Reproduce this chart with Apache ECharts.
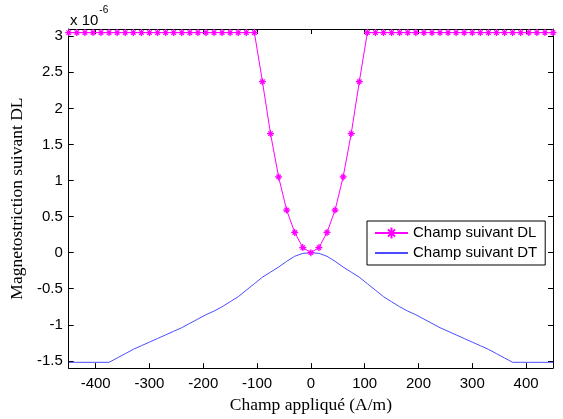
<!DOCTYPE html>
<html>
<head>
<meta charset="utf-8">
<script src="https://cdn.jsdelivr.net/npm/echarts@6/dist/echarts.min.js"></script>
<style>html,body{margin:0;padding:0;background:#fff;}#c{width:563px;height:419px;}</style>
</head>
<body>
<div id="c"></div>
<script>
var fields = [-450,-435,-420,-405,-390,-375,-360,-345,-330,-315,-300,-285,-270,-255,-240,-225,-210,-195,-180,-165,-150,-135,-120,-105,-90,-75,-60,-45,-30,-15,0,15,30,45,60,75,90,105,120,135,150,165,180,195,210,225,240,255,270,285,300,315,330,345,360,375,390,405,420,435,450];
var dlValues = [3.05,3.05,3.05,3.05,3.05,3.05,3.05,3.05,3.05,3.05,3.05,3.05,3.05,3.05,3.05,3.05,3.05,3.05,3.05,3.05,3.05,3.05,3.05,3.05,2.37,1.65,1.05,0.59,0.28,0.07,0,0.07,0.28,0.59,1.05,1.65,2.37,3.05,3.05,3.05,3.05,3.05,3.05,3.05,3.05,3.05,3.05,3.05,3.05,3.05,3.05,3.05,3.05,3.05,3.05,3.05,3.05,3.05,3.05,3.05,3.05];
var dtValues = [-1.52,-1.52,-1.52,-1.52,-1.52,-1.52,-1.46,-1.40,-1.34,-1.29,-1.24,-1.19,-1.14,-1.09,-1.04,-0.98,-0.92,-0.86,-0.81,-0.75,-0.68,-0.61,-0.52,-0.43,-0.34,-0.27,-0.20,-0.12,-0.05,-0.01,0,-0.01,-0.05,-0.12,-0.20,-0.27,-0.34,-0.43,-0.52,-0.61,-0.68,-0.75,-0.81,-0.86,-0.92,-0.98,-1.04,-1.09,-1.14,-1.19,-1.24,-1.29,-1.34,-1.40,-1.46,-1.52,-1.52,-1.52,-1.52,-1.52,-1.52];
var xTicks = [-400,-300,-200,-100,0,100,200,300,400];
var yTicks = [-1.5,-1,-0.5,0,0.5,1,1.5,2,2.5,3];
var seriesNames = ['Champ suivant DL','Champ suivant DT'];

function pairs(xs, ys){ var out=[]; for(var i=0;i<xs.length;i++){ out.push([xs[i], ys[i]]); } return out; }

var chart = echarts.init(document.getElementById('c'));
var sans = 'Liberation Sans, Arial, sans-serif';
var serif = 'Liberation Serif, Times New Roman, serif';
var lab = {fontFamily:sans, fontSize:15, color:'#000'};
var star = 'path://M0,-5L0,5M-5,0L5,0M-3.2,-3.2L3.2,3.2M-3.2,3.2L3.2,-3.2';
chart.setOption({
  animation:false,
  backgroundColor:'#fff',
  grid:{left:68.7, right:10, top:29, bottom:49, containLabel:false},
  xAxis:[{
    type:'value', min:-450, max:450, position:'bottom',
    axisLine:{show:true, onZero:false, lineStyle:{color:'#000', width:1}},
    axisTick:{show:true, inside:true, length:5, customValues:xTicks, lineStyle:{color:'#000'}},
    axisLabel:Object.assign({customValues:xTicks, margin:8}, lab),
    splitLine:{show:false},
    name:'Champ appliqué (A/m)', nameLocation:'middle', nameGap:26,
    nameTextStyle:{fontFamily:serif, fontSize:17.5, color:'#000'}
  },{
    type:'value', min:-450, max:450, position:'top',
    axisLine:{show:true, onZero:false, lineStyle:{color:'#000', width:1}},
    axisTick:{show:true, inside:true, length:5, customValues:xTicks, lineStyle:{color:'#000'}},
    axisLabel:{show:false}, splitLine:{show:false}
  }],
  yAxis:[{
    type:'value', min:-1.6, max:3.1, position:'left',
    axisLine:{show:true, onZero:false, lineStyle:{color:'#000', width:1}},
    axisTick:{show:true, inside:true, length:5, customValues:yTicks, lineStyle:{color:'#000'}},
    axisLabel:Object.assign({customValues:yTicks, margin:6}, lab),
    splitLine:{show:false},
    name:'Magnetostriction suivant DL', nameLocation:'middle', nameGap:40,
    nameTextStyle:{fontFamily:serif, fontSize:17.5, color:'#000'}
  },{
    type:'value', min:-1.6, max:3.1, position:'right',
    axisLine:{show:true, onZero:false, lineStyle:{color:'#000', width:1}},
    axisTick:{show:true, inside:true, length:5, customValues:yTicks, lineStyle:{color:'#000'}},
    axisLabel:{show:false}, splitLine:{show:false}
  }],
  legend:{
    orient:'vertical', left:367, top:221,
    padding:[4,8,4,7], itemGap:4, itemWidth:33, itemHeight:14,
    borderColor:'#000', borderWidth:1, backgroundColor:'#fff', borderRadius:0,
    textStyle:Object.assign({lineHeight:16}, lab),
    data:[
      {name:seriesNames[0]},
      {name:seriesNames[1], itemStyle:{color:'transparent', borderColor:'transparent', borderWidth:0}}
    ]
  },
  graphic:[{
    type:'text', left:70, top:5,
    style:{text:'{a|x 10}{b|-6}', rich:{
      a:{fontFamily:sans, fontSize:15, color:'#000', verticalAlign:'bottom', padding:[8,0,0,0]},
      b:{fontFamily:sans, fontSize:10, color:'#000', verticalAlign:'top', padding:[0,0,0,1]}
    }}
  }],
  series:[{
    name:seriesNames[0], type:'line', data:pairs(fields, dlValues),
    symbol:star, symbolSize:7, showSymbol:true,
    lineStyle:{color:'#ff00ff', width:1},
    itemStyle:{color:'#ff00ff', borderColor:'#ff00ff', borderWidth:1.3},
    z:3
  },{
    name:seriesNames[1], type:'line', data:pairs(fields, dtValues),
    symbol:'none',
    lineStyle:{color:'#4b4bff', width:1},
    itemStyle:{color:'#4b4bff'},
    z:2
  }]
});
</script>
</body>
</html>
